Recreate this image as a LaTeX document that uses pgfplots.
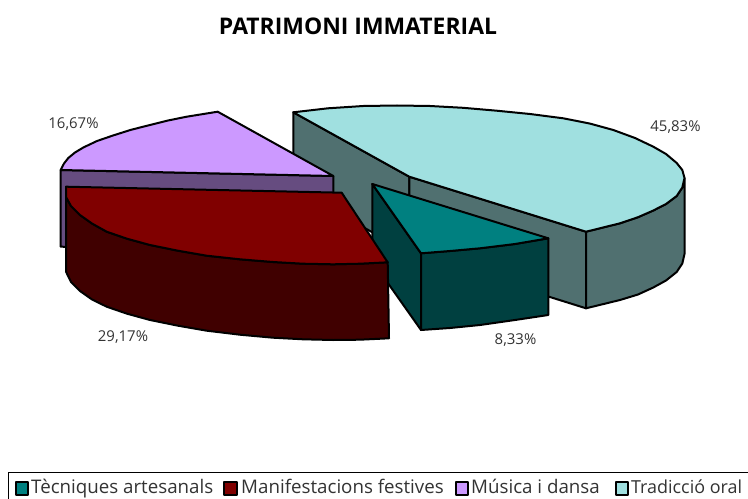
\documentclass[border=0pt]{standalone}
\usepackage{pgfplots}
\pgfplotsset{compat=1.18}
\usepackage{fontspec}
\setmainfont{Open Sans}
\definecolor{cyantop}{HTML}{A0E0E0}
\definecolor{cyanside}{HTML}{507070}
\definecolor{purptop}{HTML}{CC99FF}
\definecolor{purpside}{HTML}{664C80}
\definecolor{redtop}{HTML}{800000}
\definecolor{redside}{HTML}{400000}
\definecolor{tealtop}{HTML}{008080}
\definecolor{tealside}{HTML}{004040}
\definecolor{lab}{HTML}{333333}
\begin{document}
\begin{tikzpicture}
\path[use as bounding box] (0,0) rectangle (748bp,499bp);
\begin{axis}[
  at={(0,0)}, anchor=south west,
  scale only axis, width=748bp, height=499bp,
  xmin=0, xmax=748, ymin=0, ymax=499, y dir=reverse,
  hide axis,
  every axis plot/.append style={draw=black, line width=2bp, line join=round, mark=none},
]
% Tradicció oral, 45,83%
\addplot[fill=cyanside] coordinates {(293.3,112.3) (409.3,176.7) (409.3,253) (293.3,188)} -- cycle;
\addplot[fill=cyanside] coordinates {(409.3,176.7) (586,231.7) (586,308.3) (409.3,253)} -- cycle;
\addplot[fill=cyanside] coordinates {(586,231.7) (620,223.3) (638,217.2) (653.3,210.5) (666,204) (676.7,196) (682.3,187.5) (684.5,178) (684.5,254) (682.3,263.5) (676.7,272) (666,280.5) (653.3,287.5) (638,294.5) (620,300) (586,308.3)} -- cycle;
\addplot[fill=cyantop] coordinates {(293.3,112.3) (328,108.3) (363.3,106) (397,105.5) (430,106) (463,107.8) (496.7,110.7) (530,114) (563.3,118.3) (590,123.6) (613.3,130) (635,138) (653.3,146.7) (666,154) (676.7,163) (682.3,170) (684.5,178) (682.3,187.5) (676.7,196) (666,204) (653.3,210.5) (638,217.2) (620,223.3) (586,231.7) (409.3,176.7)} -- cycle;
% Música i dansa, 16,67%
\addplot[fill=purpside] coordinates {(60.7,170) (333.3,176) (333.3,252) (60.7,246.7)} -- cycle;
\addplot[fill=purptop] coordinates {(217.7,111.7) (186.7,116.7) (168,120.5) (150,125) (131,129.8) (113,135.5) (97,141) (83.3,147.5) (75,152.5) (68.3,158) (64,163.5) (60.7,170) (333.3,176)} -- cycle;
% Tècniques artesanals, 8,33%
\addplot[fill=tealside] coordinates {(372.3,184) (421,253.3) (421,330) (372.3,261)} -- cycle;
\addplot[fill=tealside] coordinates {(421,253.3) (450,251) (480,248.3) (515,244) (548.3,238.3) (548.3,315) (515,320) (480,325) (450,328) (421,330)} -- cycle;
\addplot[fill=tealtop] coordinates {(372.3,184) (548.3,238.3) (515,244) (480,248.3) (450,251) (421,253.3)} -- cycle;
% Manifestacions festives, 29,17%
\addplot[fill=redside] coordinates {(66,197) (71,206) (80,215) (92,223.5) (106.7,231.7) (127,238.7) (150,245) (178,250.7) (206.7,255.7) (240,259.3) (273,262) (303,263.7) (333,264.3) (360,263.7) (387.7,262.3) (389,338.3) (360,339.7) (333,340) (303,339.3) (273,337.7) (240,334.7) (206.7,330.7) (178,325.7) (150,320) (127,313.7) (106.7,306.7) (92,299.5) (80,291) (71,282) (66,271.7)} -- cycle;
\addplot[fill=redtop] coordinates {(66,186.7) (341.7,192.7) (387.7,262.3) (360,263.7) (333,264.3) (303,263.7) (273,262) (240,259.3) (206.7,255.7) (178,250.7) (150,245) (127,238.7) (106.7,231.7) (92,223.5) (80,215) (71,206) (66,197)} -- cycle;
% legend
\addplot[fill=white, line width=1bp] coordinates {(8.5,472.5) (760,472.5) (760,510) (8.5,510)} -- cycle;
\addplot[fill=tealtop, line width=2bp] coordinates {(15.5,482) (28,482) (28,495) (15.5,495)} -- cycle;
\addplot[fill=redtop, line width=2bp] coordinates {(224,482) (236.5,482) (236.5,495) (224,495)} -- cycle;
\addplot[fill=purptop, line width=2bp] coordinates {(455.5,482) (468,482) (468,495) (455.5,495)} -- cycle;
\addplot[fill=cyantop, line width=2bp] coordinates {(615.5,482) (628,482) (628,495) (615.5,495)} -- cycle;
\node[anchor=center, font=\bfseries\fontsize{23}{26}\selectfont, text=black] at (axis cs:358,26) {PATRIMONI IMMATERIAL};
\node[anchor=center, font=\fontsize{15}{17}\selectfont, text=lab] at (axis cs:73.5,124) {16,67\%};
\node[anchor=center, font=\fontsize{15}{17}\selectfont, text=lab] at (axis cs:675.5,127) {45,83\%};
\node[anchor=center, font=\fontsize{15}{17}\selectfont, text=lab] at (axis cs:123,337) {29,17\%};
\node[anchor=center, font=\fontsize{15}{17}\selectfont, text=lab] at (axis cs:515.5,340) {8,33\%};
\node[anchor=base west, inner sep=0pt, font=\fontsize{18.8}{20}\selectfont, text=lab] at (axis cs:31,493.5) {Tècniques artesanals};
\node[anchor=base west, inner sep=0pt, font=\fontsize{18.8}{20}\selectfont, text=lab] at (axis cs:241,493.5) {Manifestacions festives};
\node[anchor=base west, inner sep=0pt, font=\fontsize{18.8}{20}\selectfont, text=lab] at (axis cs:471,493.5) {Música i dansa};
\node[anchor=base west, inner sep=0pt, font=\fontsize{18}{20}\selectfont, text=lab] at (axis cs:631,493.5) {Tradicció oral};
\end{axis}
\end{tikzpicture}
\end{document}
